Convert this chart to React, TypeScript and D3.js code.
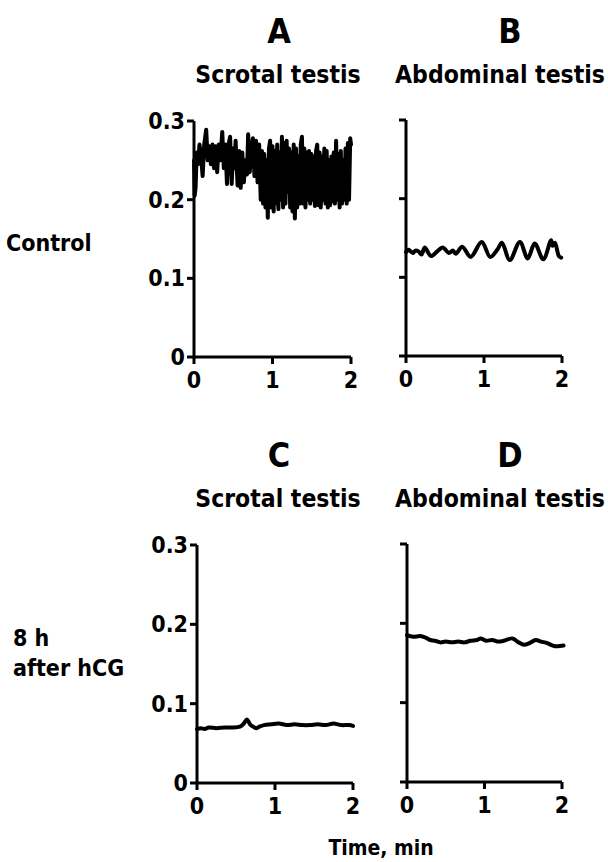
import React from "react";
import * as d3 from "d3";

// ---- data (time in min, value) ----
const panelAData: [number, number][] = [
  [0.0, 0.25], [0.008, 0.205], [0.02, 0.215], [0.035, 0.26], [0.05, 0.245], [0.07, 0.27],
  [0.09, 0.255], [0.11, 0.23], [0.13, 0.27], [0.155, 0.289], [0.175, 0.25], [0.195, 0.268],
  [0.215, 0.245], [0.235, 0.27], [0.255, 0.24], [0.275, 0.268], [0.295, 0.235], [0.315, 0.27],
  [0.335, 0.25], [0.36, 0.286], [0.38, 0.24], [0.4, 0.27], [0.42, 0.22], [0.44, 0.27],
  [0.46, 0.28], [0.48, 0.22], [0.5, 0.265], [0.515, 0.24], [0.53, 0.275], [0.555, 0.218],
  [0.575, 0.262], [0.595, 0.215], [0.615, 0.26], [0.635, 0.222], [0.655, 0.25], [0.675, 0.232],
  [0.69, 0.283], [0.71, 0.235], [0.73, 0.262], [0.75, 0.278], [0.77, 0.23], [0.79, 0.275],
  [0.81, 0.222], [0.83, 0.27], [0.85, 0.2], [0.865, 0.262], [0.88, 0.195], [0.895, 0.258],
  [0.91, 0.19], [0.925, 0.25], [0.94, 0.177], [0.955, 0.265], [0.97, 0.275], [0.985, 0.19],
  [1.0, 0.268], [1.015, 0.185], [1.03, 0.262], [1.045, 0.195], [1.06, 0.27], [1.075, 0.188],
  [1.09, 0.26], [1.105, 0.2], [1.12, 0.28], [1.135, 0.19], [1.15, 0.272], [1.165, 0.195],
  [1.18, 0.275], [1.195, 0.21], [1.21, 0.265], [1.225, 0.19], [1.24, 0.26], [1.255, 0.185],
  [1.27, 0.27], [1.285, 0.176], [1.3, 0.265], [1.315, 0.19], [1.33, 0.255], [1.345, 0.195],
  [1.36, 0.27], [1.375, 0.28], [1.39, 0.195], [1.405, 0.265], [1.42, 0.19], [1.435, 0.26],
  [1.45, 0.2], [1.465, 0.262], [1.48, 0.195], [1.495, 0.258], [1.51, 0.2], [1.525, 0.255],
  [1.54, 0.192], [1.555, 0.262], [1.57, 0.27], [1.585, 0.193], [1.6, 0.26], [1.615, 0.19],
  [1.63, 0.255], [1.645, 0.2], [1.66, 0.265], [1.675, 0.195], [1.69, 0.262], [1.705, 0.19],
  [1.72, 0.25], [1.735, 0.193], [1.75, 0.255], [1.765, 0.198], [1.78, 0.26], [1.795, 0.195],
  [1.81, 0.275], [1.825, 0.2], [1.84, 0.258], [1.855, 0.19], [1.87, 0.262], [1.885, 0.195],
  [1.9, 0.25], [1.915, 0.2], [1.93, 0.265], [1.945, 0.195], [1.96, 0.272], [1.975, 0.2],
  [1.99, 0.278], [2.0, 0.27],
];

const panelBData: [number, number][] = [
  [0.0, 0.132], [0.03, 0.135], [0.06, 0.133], [0.09, 0.131], [0.12, 0.134], [0.16, 0.133],
  [0.2, 0.129], [0.24, 0.138], [0.32, 0.127], [0.4, 0.133], [0.47, 0.138], [0.55, 0.131],
  [0.6, 0.134], [0.64, 0.13], [0.72, 0.139], [0.83, 0.126], [0.97, 0.145], [1.08, 0.126],
  [1.17, 0.135], [1.23, 0.144], [1.33, 0.122], [1.46, 0.145], [1.56, 0.124], [1.65, 0.143],
  [1.76, 0.123], [1.86, 0.147], [1.88, 0.14], [1.91, 0.144], [1.96, 0.127], [1.99, 0.125],
];

const panelCData: [number, number][] = [
  [0.0, 0.068], [0.05, 0.069], [0.1, 0.068], [0.15, 0.07], [0.25, 0.069], [0.35, 0.07],
  [0.45, 0.07], [0.55, 0.071], [0.6, 0.075], [0.64, 0.08], [0.68, 0.074], [0.72, 0.071],
  [0.76, 0.069], [0.8, 0.071], [0.86, 0.073], [0.95, 0.074], [1.05, 0.075], [1.15, 0.073],
  [1.25, 0.074], [1.35, 0.073], [1.45, 0.073], [1.55, 0.074], [1.65, 0.073], [1.75, 0.075],
  [1.85, 0.073], [1.95, 0.073], [2.0, 0.072],
];

const panelDData: [number, number][] = [
  [0.0, 0.185], [0.08, 0.183], [0.17, 0.184], [0.24, 0.182], [0.3, 0.179], [0.36, 0.178],
  [0.43, 0.176], [0.5, 0.177], [0.58, 0.176], [0.66, 0.177], [0.74, 0.176], [0.82, 0.178],
  [0.9, 0.179], [0.95, 0.181], [1.02, 0.178], [1.1, 0.179], [1.18, 0.177], [1.25, 0.178],
  [1.36, 0.181], [1.44, 0.176], [1.51, 0.173], [1.58, 0.175], [1.66, 0.179], [1.73, 0.177],
  [1.81, 0.175], [1.88, 0.172], [1.94, 0.171], [2.02, 0.172],
];

const yTicks = [0, 0.1, 0.2, 0.3];
const yTickLabels = ["0", "0.1", "0.2", "0.3"];
const xTicks = [0, 1, 2];
const xTickLabels = ["0", "1", "2"];
const panelLetters = ["A", "B", "C", "D"];
const panelTitles = ["Scrotal testis", "Abdominal testis", "Scrotal testis", "Abdominal testis"];
const rowLabels = [["Control"], ["8 h", "after hCG"]];
const xAxisTitle = "Time, min";

const FONT = "'DejaVu Sans Condensed', 'DejaVu Sans', sans-serif";
const TXT = { fontFamily: FONT, fontWeight: "bold" as const, style: { fontStretch: "condensed" } };

type PanelCfg = {
  data: [number, number][];
  x0: number; x1: number; y0: number; y1: number;
  showYLabels: boolean; smooth: boolean;
  letter: string; title: string;
  letterX: number; letterY: number; titleX: number; titleY: number;
};

function Panel({ cfg }: { cfg: PanelCfg }) {
  const x = d3.scaleLinear().domain([0, 2]).range([cfg.x0, cfg.x1]);
  const y = d3.scaleLinear().domain([0, 0.3]).range([cfg.y0, cfg.y1]);
  const line = d3.line<[number, number]>().x((d) => x(d[0])).y((d) => y(d[1]));
  if (cfg.smooth) line.curve(d3.curveCatmullRom);
  const ax = x(0);
  return (
    <g>
      <text x={cfg.letterX} y={cfg.letterY} textAnchor="middle" fontSize={34} {...TXT}>{cfg.letter}</text>
      <text x={cfg.titleX} y={cfg.titleY} textAnchor="middle" fontSize={24.5} {...TXT}>{cfg.title}</text>
      {/* y axis */}
      <line x1={ax} x2={ax} y1={y(0.3)} y2={y(0)} stroke="#000" strokeWidth={3} />
      {yTicks.map((t, i) => (
        <g key={"y" + i}>
          <line x1={ax - 7} x2={ax} y1={y(t)} y2={y(t)} stroke="#000" strokeWidth={3} />
          {cfg.showYLabels && (
            <text x={ax - 9} y={y(t) + 8} textAnchor="end" fontSize={23} {...TXT}>{yTickLabels[i]}</text>
          )}
        </g>
      ))}
      {/* x axis */}
      <line x1={ax} x2={x(2)} y1={y(0)} y2={y(0)} stroke="#000" strokeWidth={3} />
      {xTicks.map((t, i) => (
        <g key={"x" + i}>
          <line x1={x(t)} x2={x(t)} y1={y(0)} y2={y(0) + 7} stroke="#000" strokeWidth={3} />
          <text x={x(t)} y={y(0) + 31} textAnchor="middle" fontSize={23} {...TXT}>{xTickLabels[i]}</text>
        </g>
      ))}
      <path d={line(cfg.data) || ""} fill="none" stroke="#000" strokeWidth={4} strokeLinejoin="round" strokeLinecap="round" />
    </g>
  );
}

export default function App() {
  const panels: PanelCfg[] = [
    { data: panelAData, x0: 194, x1: 351, y0: 357, y1: 121, showYLabels: true, smooth: false, letter: panelLetters[0], title: panelTitles[0], letterX: 279, letterY: 43, titleX: 278, titleY: 83 },
    { data: panelBData, x0: 406, x1: 562, y0: 356, y1: 120, showYLabels: false, smooth: true, letter: panelLetters[1], title: panelTitles[1], letterX: 510, letterY: 43, titleX: 500, titleY: 83 },
    { data: panelCData, x0: 197, x1: 353, y0: 783, y1: 545, showYLabels: true, smooth: true, letter: panelLetters[2], title: panelTitles[2], letterX: 279, letterY: 467, titleX: 278, titleY: 507 },
    { data: panelDData, x0: 407, x1: 562, y0: 782, y1: 544, showYLabels: false, smooth: true, letter: panelLetters[3], title: panelTitles[3], letterX: 510, letterY: 467, titleX: 500, titleY: 507 },
  ];
  return (
    <svg width={608} height={862} style={{ position: "absolute", left: 0, top: 0, background: "#fff" }}>
      <rect width={608} height={862} fill="#fff" />
      {panels.map((p, i) => <Panel key={i} cfg={p} />)}
      <text x={6} y={251} fontSize={23} {...TXT}>{rowLabels[0][0]}</text>
      <text x={13} y={646} fontSize={23} {...TXT}>{rowLabels[1][0]}</text>
      <text x={13} y={676} fontSize={23} {...TXT}>{rowLabels[1][1]}</text>
      <text x={381} y={855} textAnchor="middle" fontSize={21} {...TXT}>{xAxisTitle}</text>
    </svg>
  );
}
